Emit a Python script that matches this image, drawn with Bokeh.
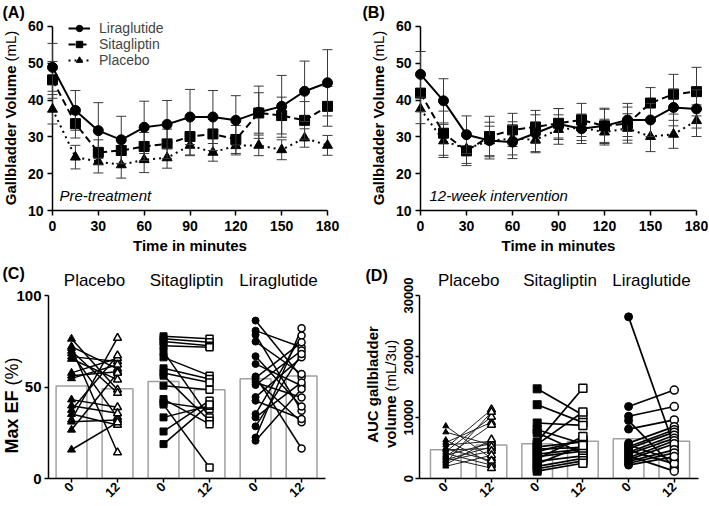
import math
from bokeh.plotting import figure
from bokeh.models import Range1d, FixedTicker, Legend, LegendItem
from bokeh.core.properties import value
from bokeh.layouts import column, row
from bokeh.embed import file_html
from bokeh.resources import INLINE

FONT = "Liberation Sans"

# ---------------- data: gallbladder volume time courses (mL) ----------------
time_min = [0, 15, 30, 45, 60, 75, 90, 105, 120, 135, 150, 165, 180]
time_ticks = [0, 30, 60, 90, 120, 150, 180]
volume_ticks = [10, 20, 30, 40, 50, 60]

lira_pre = [48.9, 37.2, 31.7, 29.2, 32.6, 33.4, 35.4, 35.4, 34.5, 36.7, 38.3, 42.4, 44.7]
lira_pre_sem = [6.5, 5.4, 7.6, 6.4, 7.1, 6.5, 7.5, 7.2, 6.7, 7.1, 8.4, 8.2, 9.0]
sita_pre = [45.5, 33.6, 25.8, 26.3, 27.4, 28.1, 30.1, 30.8, 29.3, 36.5, 35.8, 34.5, 38.3]
sita_pre_sem = [5.0, 3.9, 3.4, 3.6, 3.8, 4.0, 5.0, 4.5, 3.8, 5.5, 5.0, 5.1, 5.4]
plac_pre = [37.5, 24.5, 23.3, 22.4, 23.8, 24.3, 27.7, 25.8, 27.6, 27.7, 26.5, 29.7, 27.7]
plac_pre_sem = [4.0, 3.2, 3.1, 3.6, 3.5, 2.8, 2.8, 2.4, 2.5, 2.8, 2.7, 2.5, 2.7]

lira_post = [47.0, 39.8, 30.6, 29.0, 28.6, 31.0, 33.5, 32.2, 33.0, 34.6, 34.6, 38.0, 37.6]
lira_post_sem = [6.2, 6.0, 5.1, 5.0, 4.5, 5.0, 4.2, 4.0, 4.8, 4.5, 4.5, 5.0, 5.2]
sita_post = [41.9, 31.0, 26.2, 30.1, 31.9, 32.7, 33.7, 34.6, 33.0, 33.6, 39.2, 41.6, 42.3]
sita_post_sem = [5.0, 6.0, 4.0, 5.5, 4.5, 4.5, 4.0, 4.5, 4.5, 4.5, 4.2, 5.4, 6.6]
plac_post = [37.6, 28.9, 26.8, 28.9, 29.6, 29.2, 32.0, 32.5, 31.3, 32.3, 30.1, 30.7, 34.4]
plac_post_sem = [4.0, 4.5, 4.0, 4.0, 4.5, 3.5, 4.0, 3.5, 3.5, 4.0, 4.1, 3.8, 4.3]

# ---------------- data: individual max EF (%) week 0 -> week 12 ----------------
group_names = ["Placebo", "Sitagliptin", "Liraglutide"]
week_labels = ["0", "12", "0", "12", "0", "12"]
category_pos = [0, 1, 2, 3, 4, 5]

ef_bar_means = [50.5, 49.0, 53.0, 48.5, 54.5, 56.0]
plac_ef_wk0 = [76.3, 72.1, 71.2, 69.7, 68.4, 66.6, 65.3, 57.7, 56.2, 54.7, 43.1, 39.8, 37.4, 35.2, 32.1, 31.0, 26.6, 15.7]
plac_ef_wk12 = [48.5, 59.9, 14.2, 46.7, 33.4, 63.9, 54.0, 65.7, 58.4, 62.2, 38.9, 35.6, 67.2, 29.2, 76.8, 32.0, 57.7, 30.7]
sita_ef_wk0 = [77.7, 76.3, 74.8, 72.6, 69.3, 66.2, 60.2, 57.7, 56.2, 50.7, 43.4, 41.6, 40.4, 33.4, 25.7, 18.8]
sita_ef_wk12 = [76.3, 74.4, 72.6, 71.7, 33.4, 56.2, 54.4, 52.5, 31.6, 48.5, 29.7, 38.0, 6.0, 39.8, 42.5, 40.5]
lira_ef_wk0 = [86.3, 80.8, 78.5, 74.8, 66.8, 62.6, 55.8, 53.8, 52.5, 51.1, 44.5, 42.5, 35.2, 33.4, 28.5, 22.4, 20.6, 55.0]
lira_ef_wk12 = [55.3, 71.7, 37.0, 57.1, 39.4, 50.7, 16.4, 30.7, 44.3, 69.9, 66.2, 32.5, 78.1, 52.5, 68.1, 82.1, 48.9, 74.4]

# ---------------- data: individual AUC gallbladder volume (mL/3u) ----------------
auc_bar_means = [4700, 5500, 5700, 6100, 6500, 6100]
plac_auc_wk0 = [8600, 7600, 6300, 5900, 5500, 5000, 4700, 4400, 4100, 3800, 3600, 3400, 3100, 2900, 2600, 2300, 2000, 4900]
plac_auc_wk12 = [3300, 5500, 2500, 9200, 6100, 11300, 4900, 10100, 2200, 5800, 8800, 1700, 5200, 4500, 10900, 6400, 3800, 2900]
sita_auc_wk0 = [14700, 12100, 9100, 8000, 7500, 6000, 5600, 5200, 4800, 4400, 4000, 3600, 3200, 2800, 2400, 2000, 1600, 1200]
sita_auc_wk12 = [10400, 9200, 8700, 5700, 4100, 14800, 10900, 6000, 5100, 6300, 4800, 4500, 6900, 3700, 5400, 3300, 2900, 2500]
lira_auc_wk0 = [26500, 11800, 10200, 9500, 8100, 5800, 5500, 5200, 4900, 4600, 4300, 4000, 3700, 3400, 3100, 2800, 2500, 2200]
lira_auc_wk12 = [5200, 14500, 11800, 1800, 9600, 8500, 3000, 8000, 7600, 2400, 7100, 6600, 1200, 6200, 5700, 4700, 4200, 3600]

# ---------------- layout geometry (page pixels) ----------------
# plots in one row share top/bottom borders, so frames of a row are aligned
GEOM = {
    "A": dict(origin=(0, 0), size=(354, 253), frame=(52, 327, 18, 210), xr=(0, 180), yr=(10, 62.17)),
    "B": dict(origin=(354, 0), size=(354, 253), frame=(420, 696, 18, 210), xr=(0, 180), yr=(10, 62.17)),
    "C": dict(origin=(0, 253), size=(354, 252), frame=(48, 325, 295, 478), xr=(-0.5, 5.52), yr=(0, 100)),
    "D": dict(origin=(354, 253), size=(354, 252), frame=(419, 698, 295, 478), xr=(-0.575, 5.53), yr=(0, 30000)),
}


def to_data(key, px, py):
    g = GEOM[key]
    fl, fr, ft, fb = g["frame"]
    x0, x1 = g["xr"]
    y0, y1 = g["yr"]
    return (x0 + (px - fl) / (fr - fl) * (x1 - x0),
            y0 + (fb - py) / (fb - ft) * (y1 - y0))


def make_fig(key):
    g = GEOM[key]
    ox, oy = g["origin"]
    w, h = g["size"]
    fl, fr, ft, fb = g["frame"]
    p = figure(width=w, height=h, x_range=Range1d(*g["xr"]), y_range=Range1d(*g["yr"]),
               output_backend="svg", toolbar_location=None,
               min_border_left=fl - ox, min_border_right=ox + w - fr,
               min_border_top=ft - oy, min_border_bottom=oy + h - fb)
    p.outline_line_color = None
    p.xgrid.visible = False
    p.ygrid.visible = False
    p.background_fill_color = "white"
    p.border_fill_color = "white"
    return p


def style_axes(p, xticks, yticks, xsize, ysize, tick_out=5, xstand=5, ystand=4):
    for ax in (p.xaxis[0], p.yaxis[0]):
        ax.axis_line_color = "black"
        ax.axis_line_width = 1.5
        ax.major_tick_line_color = "black"
        ax.major_tick_line_width = 1.5
        ax.major_tick_out = tick_out
        ax.major_tick_in = 0
        ax.minor_tick_line_color = None
        ax.major_label_text_font = FONT
        ax.major_label_text_font_style = "bold"
        ax.major_label_text_color = "black"
    p.xaxis[0].ticker = FixedTicker(ticks=xticks)
    p.yaxis[0].ticker = FixedTicker(ticks=yticks)
    p.xaxis[0].major_label_text_font_size = f"{xsize}px"
    p.yaxis[0].major_label_text_font_size = f"{ysize}px"
    p.xaxis[0].major_label_standoff = xstand
    p.yaxis[0].major_label_standoff = ystand


def add_text(p, key, px, py, text, size, style="normal", align="left", angle=0.0):
    x, y = to_data(key, px, py)
    r = p.text(x=[x], y=[y], text=[text], text_font=value(FONT), text_font_size=value(f"{size}px"),
               text_font_style=style, text_align=align, text_baseline="middle",
               angle=angle, text_color="black")
    r.level = "overlay"


def draw_series(p, t, mean, sem, marker, dash, size):
    lo = [m - s for m, s in zip(mean, sem)]
    hi = [m + s for m, s in zip(mean, sem)]
    col = "#3a3a3a"
    rs = [p.segment(x0=t, y0=lo, x1=t, y1=hi, line_color=col, line_width=1),
          p.scatter(t, hi, marker="dash", size=10, line_color=col, line_width=1),
          p.scatter(t, lo, marker="dash", size=10, line_color=col, line_width=1)]
    lr = p.line(t, mean, line_color="black", line_width=2, line_dash=dash)
    sr = p.scatter(t, mean, marker=marker, size=size, fill_color="black", line_color="black")
    for r in rs + [sr]:
        r.level = "overlay"
    return lr, sr


def time_panel(key, letter, lira, lira_s, sita, sita_s, plac, plac_s, note, with_legend,
               letter_x, ylab_x, note_x):
    p = make_fig(key)
    style_axes(p, time_ticks, volume_ticks, 14, 14, tick_out=5, xstand=5, ystand=4)
    p.yaxis[0].bounds = (volume_ticks[0], volume_ticks[-1])
    r_pl = draw_series(p, time_min, plac, plac_s, "triangle", "2 4", 10)
    r_si = draw_series(p, time_min, sita, sita_s, "square", "7 4", 10)
    r_li = draw_series(p, time_min, lira, lira_s, "circle", "solid", 10)
    fl, fr, ft, fb = GEOM[key]["frame"]
    if with_legend:
        legend = Legend(items=[LegendItem(label="Liraglutide", renderers=list(r_li)),
                               LegendItem(label="Sitagliptin", renderers=list(r_si)),
                               LegendItem(label="Placebo", renderers=list(r_pl))],
                        location=(16, fb - 68), glyph_width=22, glyph_height=16, label_height=16,
                        spacing=0, padding=0, margin=0, label_standoff=9,
                        label_text_font=FONT, label_text_font_size="14px",
                        border_line_color=None, background_fill_alpha=0)
        p.add_layout(legend)
    add_text(p, key, letter_x, 12, letter, 16, "bold")
    add_text(p, key, ylab_x, 65, "Gallbladder Volume", 15, "bold", "right", math.pi / 2)
    add_text(p, key, ylab_x, 61, "(mL)", 15, "normal", "left", math.pi / 2)
    add_text(p, key, (fl + fr) / 2, 245, "Time in minutes", 15, "bold", "center")
    add_text(p, key, note_x, 195, note, 15, "italic", "left")
    return p


pA = time_panel("A", "(A)", lira_pre, lira_pre_sem, sita_pre, sita_pre_sem,
                plac_pre, plac_pre_sem, "Pre-treatment", True, 2, 10, 59)
pB = time_panel("B", "(B)", lira_post, lira_post_sem, sita_post, sita_post_sem,
                plac_post, plac_post_sem, "12-week intervention", False, 362, 378, 429)


def pair_panel(key, bars, groups, yticks, ysize, marker_sizes, line_w, line_cols, bar_col):
    p = make_fig(key)
    style_axes(p, category_pos, yticks, 13, ysize, tick_out=4, xstand=2, ystand=3)
    p.xaxis[0].major_label_overrides = {i: lab for i, lab in zip(category_pos, week_labels)}
    p.xaxis[0].major_label_orientation = math.pi / 4
    p.vbar(x=category_pos, top=bars, width=0.67, bottom=0, fill_color="white",
           line_color=bar_col, line_width=1.5)
    markers = ["triangle", "square", "circle"]
    for gi, (v0, v12) in enumerate(groups):
        x0 = category_pos[2 * gi]
        x1 = category_pos[2 * gi + 1]
        s0, s12 = marker_sizes[gi]
        p.segment(x0=[x0] * len(v0), y0=v0, x1=[x1] * len(v12), y1=v12,
                  line_color=line_cols[gi], line_width=line_w[gi])
        p.scatter([x0] * len(v0), v0, marker=markers[gi], size=s0,
                  fill_color="black", line_color="black")
        p.scatter([x1] * len(v12), v12, marker=markers[gi], size=s12,
                  fill_color="white", line_color="black", line_width=1.5)
    _, ty = to_data(key, 0, 280)
    cx = [(category_pos[2 * gi] + category_pos[2 * gi + 1]) / 2 for gi in range(len(group_names))]
    r = p.text(x=cx, y=[ty] * len(cx), text=group_names, text_font=value(FONT),
               text_font_size=value("17px"), text_align="center", text_baseline="middle",
               text_color="black")
    r.level = "overlay"
    return p


pC = pair_panel("C", ef_bar_means,
                [(plac_ef_wk0, plac_ef_wk12), (sita_ef_wk0, sita_ef_wk12), (lira_ef_wk0, lira_ef_wk12)],
                [0, 50, 100], 15, [(8, 8), (7, 7), (7, 7)], [1.5, 1.5, 1.5],
                ["black", "black", "black"], "#a0a0a0")
add_text(pC, "C", 2, 273, "(C)", 16, "bold")
add_text(pC, "C", 11, 390, "Max EF", 18, "bold", "right", math.pi / 2)
add_text(pC, "C", 11, 385, "(%)", 18, "normal", "left", math.pi / 2)

pD = pair_panel("D", auc_bar_means,
                [(plac_auc_wk0, plac_auc_wk12), (sita_auc_wk0, sita_auc_wk12), (lira_auc_wk0, lira_auc_wk12)],
                [0, 10000, 20000, 30000], 13, [(6, 8), (8, 8), (8, 8)], [1.0, 1.7, 1.7],
                ["#222222", "black", "black"], "#a0a0a0")
pD.yaxis[0].major_label_orientation = "vertical"
add_text(pD, "D", 365, 275, "(D)", 16, "bold")
add_text(pD, "D", 372, 384, "AUC gallbladder", 15, "bold", "center", math.pi / 2)
add_text(pD, "D", 390, 395, "volume", 15, "bold", "right", math.pi / 2)
add_text(pD, "D", 390, 391, "(mL/3u)", 15, "normal", "left", math.pi / 2)

layout = column(row(pA, pB), row(pC, pD))
open("out.html", "w").write(file_html(layout, INLINE))
